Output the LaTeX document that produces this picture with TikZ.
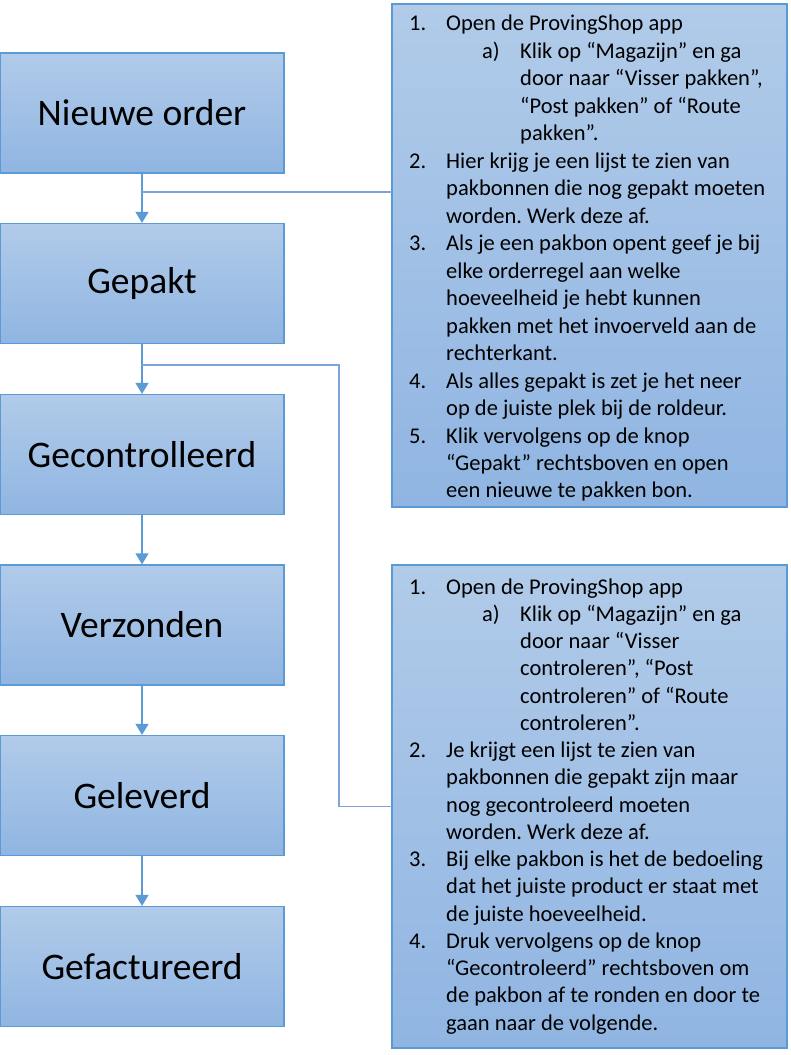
\documentclass[tikz,border=0pt]{standalone}
\usepackage{fontspec}
\setmainfont{Carlito}
\usetikzlibrary{arrows.meta}
\frenchspacing
\definecolor{bord}{HTML}{5B9BD5}
\definecolor{ftop}{HTML}{B1CBE9}
\definecolor{fbot}{HTML}{90B5E2}
\definecolor{conn}{HTML}{7FA3D9}
\tikzset{
  stage/.style={draw=bord, line width=1.2pt, top color=ftop, bottom color=fbot,
    minimum width=284pt, minimum height=120pt, inner sep=0pt,
    font=\fontsize{37.5}{42}\selectfont},
  infobox/.style={draw=bord, line width=1.2pt, top color=ftop, bottom color=fbot, inner sep=0pt},
  flow/.style={draw=bord, line width=1.2pt, -{Triangle[width=13pt,length=11pt]}},
  link/.style={draw=conn, line width=1.4pt},
  steps/.style={anchor=base west, inner sep=0pt, align=left}
}
\newcommand{\numi}[1]{\makebox[37pt][l]{#1}}
\newcommand{\subi}[1]{\hspace*{73pt}\makebox[38pt][l]{#1}}
\newcommand{\cont}{\hspace*{37pt}}
\newcommand{\subc}{\hspace*{111pt}}
\begin{document}
\begin{tikzpicture}[x=1pt,y=-1pt]
\useasboundingbox (0,0) rectangle (790,1055);
\node[stage] (b1) at (142,113) {Nieuwe order};
\node[stage] (b2) at (142,283.5) {Gepakt};
\node[stage] (b3) at (142,454.5) {Gecontrolleerd};
\node[stage] (b4) at (142,625) {Verzonden};
\node[stage] (b5) at (142,795.5) {Geleverd};
\node[stage] (b6) at (142,966.5) {Gefactureerd};
\draw[flow] (b1) -- (b2);
\draw[flow] (b2) -- (b3);
\draw[flow] (b3) -- (b4);
\draw[flow] (b4) -- (b5);
\draw[flow] (b5) -- (b6);
\path[infobox] (392,4) rectangle (787,507);
\node[minimum width=395pt, minimum height=503pt, inner sep=0pt] (r1) at (589.5,255.5) {};
\path[infobox] (392,565) rectangle (787,1048);
\node[minimum width=395pt, minimum height=483pt, inner sep=0pt] (r2) at (589.5,806.5) {};
\node[steps] (t1) at (409,30.5) {\parbox[t]{380pt}{\fontsize{22.5}{27.5}\selectfont\raggedright
\numi{1.}Open de ProvingShop app\\
\subi{a)}Klik op “Magazijn” en ga\\
\subc door naar “Visser pakken”,\\
\subc “Post pakken” of “Route\\
\subc pakken”.\\
\numi{2.}Hier krijg je een lijst te zien van\\
\cont pakbonnen die nog gepakt moeten\\
\cont worden. Werk deze af.\\
\numi{3.}Als je een pakbon opent geef je bij\\
\cont elke orderregel aan welke\\
\cont hoeveelheid je hebt kunnen\\
\cont pakken met het invoerveld aan de\\
\cont rechterkant.\\
\numi{4.}Als alles gepakt is zet je het neer\\
\cont op de juiste plek bij de roldeur.\\
\numi{5.}Klik vervolgens op de knop\\
\cont “Gepakt” rechtsboven en open\\
\cont een nieuwe te pakken bon.}};
\node[steps] (t2) at (409,594) {\parbox[t]{380pt}{\fontsize{22.5}{27.25}\selectfont\raggedright
\numi{1.}Open de ProvingShop app\\
\subi{a)}Klik op “Magazijn” en ga\\
\subc door naar “Visser\\
\subc controleren”, “Post\\
\subc controleren” of “Route\\
\subc controleren”.\\
\numi{2.}Je krijgt een lijst te zien van\\
\cont pakbonnen die gepakt zijn maar\\
\cont nog gecontroleerd moeten\\
\cont worden. Werk deze af.\\
\numi{3.}Bij elke pakbon is het de bedoeling\\
\cont dat het juiste product er staat met\\
\cont de juiste hoeveelheid.\\
\numi{4.}Druk vervolgens op de knop\\
\cont “Gecontroleerd” rechtsboven om\\
\cont de pakbon af te ronden en door te\\
\cont gaan naar de volgende.}};
\coordinate (j1) at (142,192);
\draw[link] (j1) -- (j1 -| r1.west);
\coordinate (j2) at (142,365);
\coordinate (k2) at (339,365);
\draw[link] (j2) -- (k2) |- (r2.west);
\end{tikzpicture}
\end{document}
